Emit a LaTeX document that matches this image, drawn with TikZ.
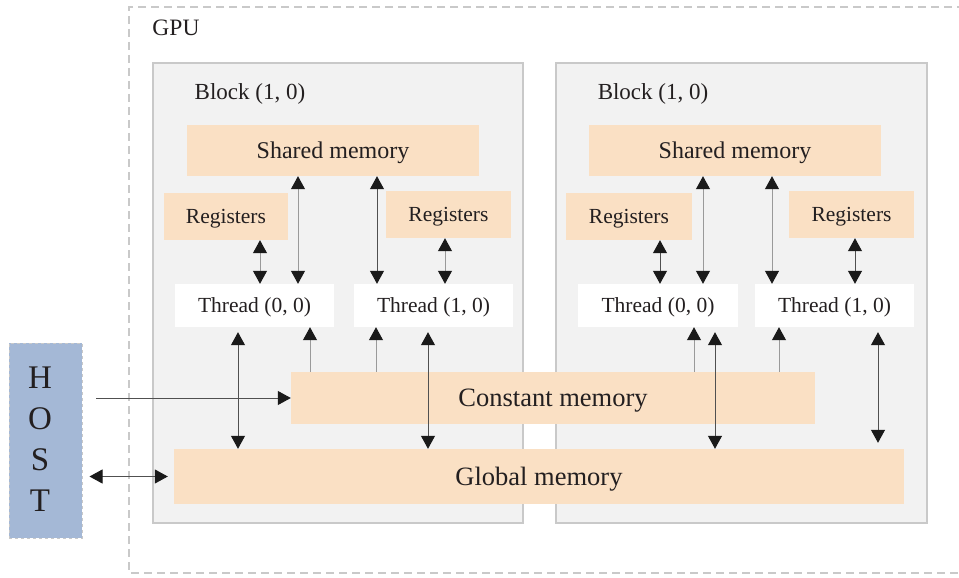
\documentclass[tikz,border=0pt]{standalone}
\usepackage{fontspec}
\setmainfont{Liberation Serif}
\usetikzlibrary{arrows.meta}
\definecolor{memc}{HTML}{FAE0C4}
\definecolor{hostc}{HTML}{A4B8D6}
\definecolor{blockc}{HTML}{F2F2F2}
\definecolor{blockb}{HTML}{C9C9C9}
\definecolor{txtc}{HTML}{231F20}
\definecolor{linec}{HTML}{505050}
\definecolor{lightl}{HTML}{9A9A9A}
\definecolor{tipc}{HTML}{1A1A1A}
\newcommand\fsz[1]{\fontsize{#1}{#1}\selectfont}
\begin{document}
\begin{tikzpicture}[x=1pt,y=-1pt,
  blockbox/.style={draw=blockb, fill=blockc, line width=1.5pt},
  membox/.style={fill=memc, inner sep=0pt, text=txtc, text depth=0pt},
  thrbox/.style={fill=white, inner sep=0pt, text=txtc, text depth=0pt, minimum height=43, font=\fsz{21.5}},
  regbox/.style={membox, minimum height=47, font=\fsz{21.5}},
  lbl/.style={inner sep=0pt, text=txtc},
  arr/.style={draw=linec, line width=1pt, -{Triangle[width=14pt,length=13pt,color=tipc]}},
  dbl/.style={draw=linec, line width=1pt, {Triangle[width=14pt,length=13pt,color=tipc]}-{Triangle[width=14pt,length=13pt,color=tipc]}},
  lighter/.style={draw=lightl}
]
\useasboundingbox (0,0) rectangle (959,578);

% GPU dashed frame
\draw[draw=blockb, line width=1.5pt, dash pattern=on 8pt off 5pt]
  (965,7) -- (129,7) -- (129,573) -- (965,573);
\node[lbl, font=\fsz{23.5}] (gpu) at (176,28) {GPU};

% blocks
\draw[blockbox] (153,63) rectangle (523,523);
\draw[blockbox] (556,63) rectangle (927,523);
\node[lbl, font=\fsz{23}, text depth=0pt] (bl1) at (250,92) {Block (1, 0)};
\node[lbl, font=\fsz{23}, text depth=0pt] (bl2) at (653,92) {Block (1, 0)};

% block 1 contents
\node[membox, minimum width=292, minimum height=51, font=\fsz{24}] (sh1) at (333,150.5) {Shared memory};
\node[regbox, minimum width=124] (rl1) at (226,216.5) {Registers};
\node[regbox, minimum width=125] (rr1) at (448.5,214.5) {Registers};
\node[thrbox, minimum width=159] (t001) at (254.5,305.5) {Thread (0, 0)};
\node[thrbox, minimum width=159] (t101) at (433.5,305.5) {Thread (1, 0)};

% block 2 contents
\node[membox, minimum width=292, minimum height=51, font=\fsz{24}] (sh2) at (735,150.5) {Shared memory};
\node[regbox, minimum width=126] (rl2) at (629,216.5) {Registers};
\node[regbox, minimum width=125] (rr2) at (851.5,214.5) {Registers};
\node[thrbox, minimum width=160] (t002) at (658,305.5) {Thread (0, 0)};
\node[thrbox, minimum width=159] (t102) at (834.5,305.5) {Thread (1, 0)};

% memories
\node[membox, minimum width=524, minimum height=52, font=\fsz{26.5}] (co) at (553,398) {Constant memory};
\node[membox, minimum width=730, minimum height=55, font=\fsz{26.5}] (gl) at (539,476.5) {Global memory};

% host
\node[fill=hostc, draw=blockb, dashed, line width=1pt, minimum width=73, minimum height=195, inner sep=0pt] (host) at (45.5,440.5) {};
\node[lbl, align=center, font={\fontsize{33}{41}\selectfont}] (hostt) at (40,439) {H\\O\\S\\T};

% block 1 arrows
\draw[dbl, lighter] (rl1.south -| 260,0) -- (t001.north -| 260,0);
\draw[dbl, lighter] (sh1.south -| 298,0) -- (t001.north -| 298,0);
\draw[dbl] (sh1.south -| 377,0) -- (t101.north -| 377,0);
\draw[dbl, lighter] (rr1.south -| 445,0) -- (t101.north -| 445,0);

% block 2 arrows
\draw[dbl] (rl2.south -| 660,0) -- (t002.north -| 660,0);
\draw[dbl, lighter] (sh2.south -| 703,0) -- (t002.north -| 703,0);
\draw[dbl, lighter] (sh2.south -| 772,0) -- (t102.north -| 772,0);
\draw[dbl] (rr2.south -| 855,0) -- (t102.north -| 855,0);

% thread <-> global / constant -> thread
\draw[dbl, shorten <=5pt] (t001.south -| 238,0) -- (gl.north -| 238,0);
\draw[arr, lighter] (co.north -| 310,0) -- (t001.south -| 310,0);
\draw[arr, lighter] (co.north -| 376,0) -- (t101.south -| 376,0);
\draw[dbl, shorten <=5pt] (t101.south -| 428,0) -- (gl.north -| 428,0);
\draw[arr, lighter] (co.north -| 694,0) -- (t002.south -| 694,0);
\draw[dbl, shorten <=5pt] (t002.south -| 715,0) -- (gl.north -| 715,0);
\draw[arr, lighter] (co.north -| 779,0) -- (t102.south -| 779,0);
\draw[dbl, shorten <=5pt, shorten >=6pt] (t102.south -| 878,0) -- (gl.north -| 878,0);

% host connections
\coordinate (hs) at (96,398);
\draw[arr] (hs) -- (co.west);
\draw[dbl, shorten <=7pt, shorten >=6pt] (host.east |- gl.west) -- (gl.west);
\end{tikzpicture}
\end{document}
